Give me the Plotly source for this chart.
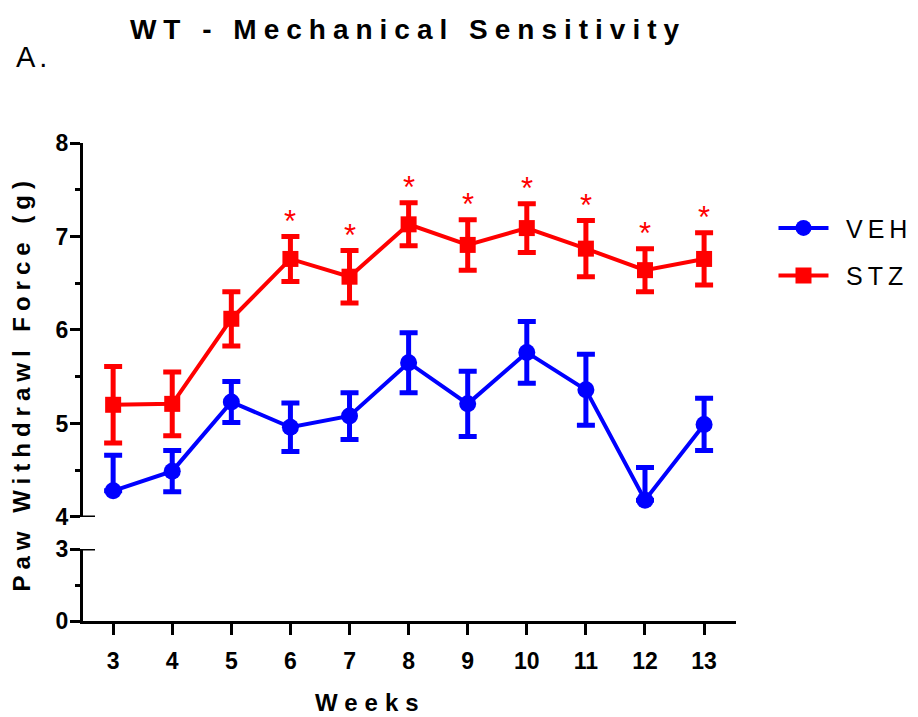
import plotly.graph_objects as go

weeks = [3, 4, 5, 6, 7, 8, 9, 10, 11, 12, 13]
veh_mean = [4.28, 4.49, 5.23, 4.96, 5.08, 5.65, 5.21, 5.76, 5.36, 4.18, 4.99]
veh_sem = [0.38, 0.22, 0.22, 0.26, 0.25, 0.32, 0.35, 0.33, 0.38, 0.35, 0.28]
stz_mean = [5.20, 5.21, 6.12, 6.76, 6.57, 7.13, 6.91, 7.09, 6.87, 6.64, 6.76]
stz_sem = [0.41, 0.34, 0.29, 0.24, 0.28, 0.23, 0.27, 0.26, 0.30, 0.23, 0.28]
stz_significant = [False, False, False, True, True, True, True, True, True, True, True]
upper_ticks = [4, 5, 6, 7, 8]
lower_ticks = [0, 3]
AXIS_BREAK_LOW = 4  # bottom of the upper (broken) y segment

BLUE = "#0000FF"
RED = "#FF0000"
FONT = "Liberation Sans, Arial, sans-serif"


def spaced(text, px):
    return f'<span style="letter-spacing:{px}px">{text}</span>'


def lower_err(means, errs):
    # like the original, a lower bar that would cross the axis break is not drawn
    return [e if m - e >= AXIS_BREAK_LOW else 0 for m, e in zip(means, errs)]


fig = go.Figure()
fig.add_trace(go.Scatter(
    x=weeks, y=veh_mean, name="\u2002" + spaced("VEH", 5), mode="lines+markers",
    line=dict(color=BLUE, width=4),
    marker=dict(symbol="circle", size=17, color=BLUE),
    error_y=dict(type="data", array=veh_sem, arrayminus=lower_err(veh_mean, veh_sem),
                 color=BLUE, thickness=5, width=9),
    xaxis="x", yaxis="y", legendgroup="veh",
))
fig.add_trace(go.Scatter(
    x=weeks, y=stz_mean, name="\u2002" + spaced("STZ", 5), mode="lines+markers",
    line=dict(color=RED, width=4),
    marker=dict(symbol="square", size=16, color=RED),
    error_y=dict(type="data", array=stz_sem, arrayminus=lower_err(stz_mean, stz_sem),
                 color=RED, thickness=5, width=9),
    xaxis="x", yaxis="y", legendgroup="stz",
))
# empty trace so the lower axis segment is drawn
fig.add_trace(go.Scatter(x=[], y=[], xaxis="x", yaxis="y2", showlegend=False,
                         hoverinfo="skip"))

annotations = []
for w, m, s, sig in zip(weeks, stz_mean, stz_sem, stz_significant):
    if sig:
        annotations.append(dict(
            x=w, y=m + s, xref="x", yref="y", text="*", showarrow=False,
            yanchor="bottom", yshift=-4,
            font=dict(family=FONT, size=31, color=RED),
        ))

annotations.append(dict(
    text=spaced("Paw Withdrawl Force (g)", 6), textangle=-90,
    xref="paper", yref="paper", x=-0.094, y=0.496,
    xanchor="center", yanchor="middle", showarrow=False,
    font=dict(family=FONT, size=24, color="black", weight="bold"),
))
annotations.append(dict(
    text=spaced("Weeks", 7),
    xref="paper", yref="paper", x=0.44, y=-0.171,
    xanchor="center", yanchor="middle", showarrow=False,
    font=dict(family=FONT, size=24, color="black", weight="bold"),
))
annotations.append(dict(
    text=spaced("A.", 4),
    xref="paper", yref="paper", x=-0.106, y=1.18,
    xanchor="left", yanchor="middle", showarrow=False,
    font=dict(family=FONT, size=29, color="black"),
))

shapes = []
for yref, yv in (("y", 4), ("y2", 3)):
    shapes.append(dict(
        type="line", xref="paper", xsizemode="pixel", xanchor=0, x0=-10, x1=12,
        yref=yref, y0=yv, y1=yv, line=dict(color="black", width=3),
    ))

axis_font = dict(family=FONT, size=23, color="black", weight="bold")

# the page body adds an 8px offset, so the figure is 8px smaller and margins shifted
fig.update_layout(
    width=910, height=709,
    margin=dict(l=75, r=182, t=135, b=96, autoexpand=False),
    paper_bgcolor="white", plot_bgcolor="white",
    title=dict(
        text=spaced("WT - Mechanical Sensitivity", 7),
        x=0.4396, xanchor="center", y=0.970, yanchor="middle",
        font=dict(family=FONT, size=28, color="black", weight="bold"),
    ),
    xaxis=dict(
        range=[2.49, 13.54], anchor="y2", tickvals=weeks,
        ticks="outside", ticklen=11, tickwidth=3, tickcolor="black",
        showline=True, linewidth=3, linecolor="black",
        showgrid=False, zeroline=False, tickfont=axis_font,
        ticklabelstandoff=6,
    ),
    yaxis=dict(
        domain=[0.2176, 1], range=[4, 8], anchor="x", tickvals=upper_ticks,
        ticks="outside", ticklen=10, tickwidth=3, tickcolor="black",
        minor=dict(dtick=0.5, tick0=4, ticks="outside", ticklen=5, tickwidth=3,
                   tickcolor="black"),
        showline=True, linewidth=3, linecolor="black",
        showgrid=False, zeroline=False, tickfont=axis_font,
        ticklabelstandoff=-3,
    ),
    yaxis2=dict(
        domain=[0, 0.1506], range=[0, 3], anchor="x", tickvals=lower_ticks,
        ticks="outside", ticklen=10, tickwidth=3, tickcolor="black",
        minor=dict(dtick=1.5, tick0=0, ticks="outside", ticklen=5, tickwidth=3,
                   tickcolor="black"),
        showline=True, linewidth=3, linecolor="black",
        showgrid=False, zeroline=False, tickfont=axis_font,
        ticklabelstandoff=-3,
    ),
    legend=dict(
        xref="container", x=0.8412, y=0.87, xanchor="left", yanchor="top",
        font=dict(family=FONT, size=25, color="black"),
        itemwidth=50, tracegroupgap=12, bgcolor="rgba(0,0,0,0)",
    ),
    annotations=annotations,
    shapes=shapes,
    showlegend=True,
)

fig.write_html("out.html")
